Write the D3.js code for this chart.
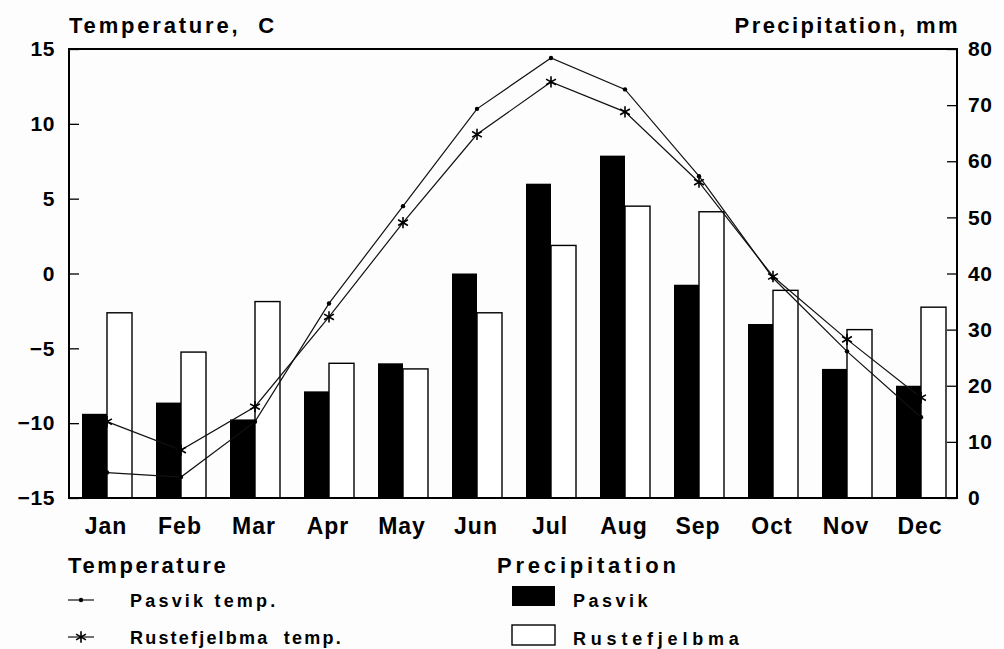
<!DOCTYPE html>
<html>
<head>
<meta charset="utf-8">
<script src="https://cdn.jsdelivr.net/npm/d3@7"></script>
<style>
  html, body { margin: 0; padding: 0; background: #fdfdfd; }
  svg { display: block; font-family: "Liberation Sans", Arial, Helvetica, sans-serif; font-weight: bold; }
</style>
</head>
<body>
<svg id="chart" width="1004" height="649"></svg>
<script>
// Monthly climate data for Pasvik and Rustefjelbma
const months = ["Jan", "Feb", "Mar", "Apr", "May", "Jun", "Jul", "Aug", "Sep", "Oct", "Nov", "Dec"];
const pasvikTemp = [-13.3, -13.6, -9.9, -2.0, 4.5, 11.0, 14.4, 12.3, 6.5, -0.3, -5.2, -9.6];
const rustefjelbmaTemp = [-9.9, -11.8, -8.9, -2.9, 3.4, 9.3, 12.8, 10.8, 6.1, -0.2, -4.4, -8.3];
const pasvikPrecip = [15, 17, 14, 19, 24, 40, 56, 61, 38, 31, 23, 20];
const rustefjelbmaPrecip = [33, 26, 35, 24, 23, 33, 45, 52, 51, 37, 30, 34];
const tempTicks = [-15, -10, -5, 0, 5, 10, 15];
const precipTicks = [0, 10, 20, 30, 40, 50, 60, 70, 80];
const stations = ["Pasvik", "Rustefjelbma"];

const svg = d3.select("#chart");
const plotL = 69, plotR = 957, plotT = 49, plotB = 498;
const FONT = "'Liberation Sans', Arial, sans-serif";

const x = d3.scaleBand().domain(months).range([plotL, plotR]).padding(0);
const groupW = 50;
const groupOff = (x.bandwidth() - groupW) / 2 + 1;
const xs = d3.scaleBand().domain(stations).range([0, groupW]).padding(0);
const yT = d3.scaleLinear().domain([-15, 15]).range([plotB, plotT]);
const yP = d3.scaleLinear().domain([0, 80]).range([plotB, plotT]);

// Precipitation bars
const barData = months.map((m, i) => ({ m, vals: [pasvikPrecip[i], rustefjelbmaPrecip[i]] }));
const groups = svg.append("g").selectAll("g").data(barData).join("g")
  .attr("transform", d => `translate(${x(d.m) + groupOff},0)`);
groups.selectAll("rect").data(d => d.vals.map((v, j) => ({ s: stations[j], v })))
  .join("rect")
  .attr("x", d => xs(d.s))
  .attr("y", d => yP(d.v))
  .attr("width", xs.bandwidth())
  .attr("height", d => yP(0) - yP(d.v))
  .attr("fill", d => d.s === "Pasvik" ? "#000" : "#fff")
  .attr("stroke", "#000")
  .attr("stroke-width", d => d.s === "Pasvik" ? 0 : 1.4);

// Temperature lines
const px = m => x(m) + groupOff + xs.bandwidth();
const line = d3.line().x(d => px(d.m)).y(d => yT(d.v));
const pasvikPts = months.map((m, i) => ({ m, v: pasvikTemp[i] }));
const rustPts = months.map((m, i) => ({ m, v: rustefjelbmaTemp[i] }));

svg.append("path").datum(pasvikPts).attr("d", line)
  .attr("fill", "none").attr("stroke", "#111").attr("stroke-width", 1.2);
svg.append("path").datum(rustPts).attr("d", line)
  .attr("fill", "none").attr("stroke", "#111").attr("stroke-width", 1.2);

svg.append("g").selectAll("circle").data(pasvikPts).join("circle")
  .attr("cx", d => px(d.m)).attr("cy", d => yT(d.v)).attr("r", 2.2).attr("fill", "#000");

const star = d3.symbol().type(d3.symbolAsterisk).size(90);
svg.append("g").selectAll("path").data(rustPts).join("path")
  .attr("d", star)
  .attr("transform", d => `translate(${px(d.m)},${yT(d.v)})`)
  .attr("fill", "none").attr("stroke", "#000").attr("stroke-width", 1.6);

// Axes
const axL = svg.append("g").attr("transform", `translate(${plotL},0)`)
  .call(d3.axisLeft(yT).tickValues(tempTicks).tickSizeInner(-10).tickSizeOuter(0).tickPadding(14)
    .tickFormat(d => d < 0 ? "\u2212" + Math.abs(d) : d));
const axR = svg.append("g").attr("transform", `translate(${plotR},0)`)
  .call(d3.axisRight(yP).tickValues(precipTicks).tickSizeInner(-10).tickSizeOuter(0).tickPadding(11));
[axL, axR].forEach(a => {
  a.select(".domain").remove();
  a.selectAll(".tick line").attr("stroke", "#000").attr("stroke-width", 1.3);
  a.selectAll(".tick text").attr("fill", "#000").style("font-size", "21px")
    .style("font-family", FONT).style("font-weight", "bold")
    .style("letter-spacing", "0.6px");
});

const axB = svg.append("g").attr("transform", `translate(0,${plotB})`)
  .call(d3.axisBottom(x).tickSize(0).tickPadding(20));
axB.select(".domain").remove();
axB.selectAll(".tick text").attr("fill", "#000").style("font-size", "23px")
  .style("font-family", FONT).style("font-weight", "bold")
  .style("letter-spacing", "1px");

// Frame
svg.append("rect").attr("x", plotL).attr("y", plotT).attr("width", plotR - plotL).attr("height", plotB - plotT)
  .attr("fill", "none").attr("stroke", "#000").attr("stroke-width", 2);

// Axis titles
svg.append("text").attr("x", 69).attr("y", 33).text("Temperature,  C")
  .style("font-size", "22px").style("letter-spacing", "2.8px").style("white-space", "pre");
svg.append("text").attr("x", 960).attr("y", 33).attr("text-anchor", "end").text("Precipitation, mm")
  .style("font-size", "22px").style("letter-spacing", "2.4px");

// Legend
const lg = svg.append("g").style("font-size", "18px");
lg.append("text").attr("x", 68).attr("y", 573).text("Temperature").style("font-size", "22px").style("letter-spacing", "2.6px");
lg.append("text").attr("x", 497).attr("y", 573).text("Precipitation").style("font-size", "22px").style("letter-spacing", "3.8px");

lg.append("line").attr("x1", 68).attr("x2", 94).attr("y1", 600).attr("y2", 600).attr("stroke", "#111").attr("stroke-width", 1.2);
lg.append("circle").attr("cx", 81).attr("cy", 600).attr("r", 2.2).attr("fill", "#000");
lg.append("text").attr("x", 130).attr("y", 607).text("Pasvik temp.").style("letter-spacing", "3.2px");

lg.append("line").attr("x1", 68).attr("x2", 94).attr("y1", 637).attr("y2", 637).attr("stroke", "#111").attr("stroke-width", 1.2);
lg.append("path").attr("d", star).attr("transform", "translate(81,637)").attr("fill", "none").attr("stroke", "#000").attr("stroke-width", 1.6);
lg.append("text").attr("x", 130).attr("y", 644).text("Rustefjelbma  temp.").style("white-space", "pre").style("letter-spacing", "2.2px");

lg.append("rect").attr("x", 512).attr("y", 586).attr("width", 43).attr("height", 20).attr("fill", "#000");
lg.append("text").attr("x", 573).attr("y", 607).text("Pasvik").style("letter-spacing", "3.5px");
lg.append("rect").attr("x", 512).attr("y", 625).attr("width", 43).attr("height", 20).attr("fill", "#fff").attr("stroke", "#000").attr("stroke-width", 1.4);
lg.append("text").attr("x", 573).attr("y", 645).text("Rustefjelbma").style("letter-spacing", "4.8px");
</script>
</body>
</html>
